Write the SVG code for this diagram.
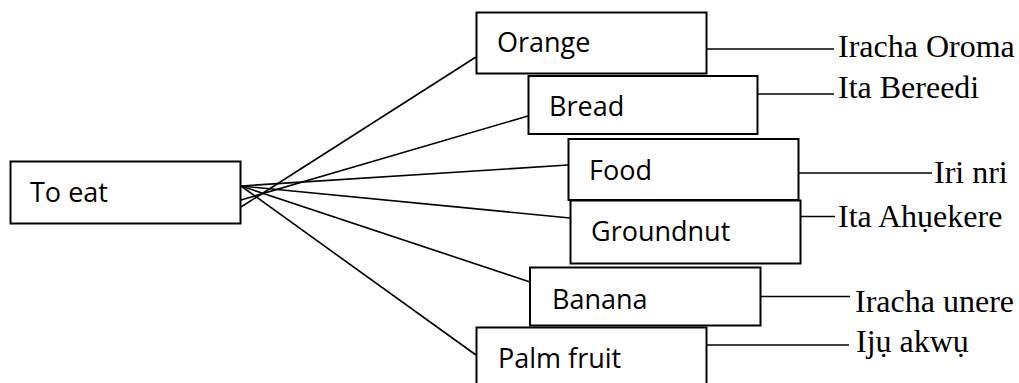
<svg xmlns="http://www.w3.org/2000/svg" width="1019" height="383" viewBox="0 0 1019 383">
<style>
.box{fill:#fff;stroke:#000;stroke-width:2}
.lbl{font-family:"Open Sans","Liberation Sans",sans-serif;font-size:27px;fill:#000}
.tr{font-family:"Liberation Serif","Times New Roman",serif;font-size:32px;fill:#000}
.ln{stroke:#000;stroke-width:1.6;fill:none}
</style>
<rect width="1019" height="383" fill="#fff"/>
<g id="connectors">
<line class="ln" x1="241" y1="207" x2="476" y2="57"/>
<line class="ln" x1="241" y1="200" x2="528" y2="116"/>
<line class="ln" x1="241" y1="186" x2="568" y2="165"/>
<line class="ln" x1="241" y1="186" x2="570" y2="218"/>
<line class="ln" x1="241" y1="186" x2="530" y2="282"/>
<line class="ln" x1="241" y1="186" x2="476" y2="355"/>
<line class="ln" x1="707" y1="49" x2="834" y2="49"/>
<line class="ln" x1="758" y1="94" x2="834" y2="94"/>
<line class="ln" x1="798" y1="173" x2="932" y2="173"/>
<line class="ln" x1="800" y1="216.5" x2="835" y2="216.5"/>
<line class="ln" x1="760" y1="296.5" x2="850" y2="296.5"/>
<line class="ln" x1="707" y1="345" x2="849" y2="345"/>
</g>
<g id="to-eat">
<rect class="box" x="10.5" y="161.5" width="230" height="62"/>
<text class="lbl" x="30" y="202">To eat</text>
</g>
<g id="orange">
<rect class="box" x="476.5" y="12.5" width="230" height="61"/>
<text class="lbl" x="497" y="52">Orange</text>
</g>
<g id="bread">
<rect class="box" x="528.5" y="76" width="229" height="58"/>
<text class="lbl" x="549" y="116">Bread</text>
</g>
<g id="food">
<rect class="box" x="568.5" y="139" width="230" height="61"/>
<text class="lbl" x="589" y="180">Food</text>
</g>
<g id="groundnut">
<rect class="box" x="570.5" y="200.5" width="230" height="63"/>
<text class="lbl" x="591" y="241">Groundnut</text>
</g>
<g id="banana">
<rect class="box" x="530" y="267.5" width="230.5" height="58"/>
<text class="lbl" x="552" y="309">Banana</text>
</g>
<g id="palm-fruit">
<rect class="box" x="476.5" y="327.5" width="230" height="70"/>
<text class="lbl" x="498" y="368">Palm fruit</text>
</g>
<g id="translations">
<text class="tr" x="838" y="57">Iracha Oroma</text>
<text class="tr" x="838" y="98">Ita Bereedi</text>
<text class="tr" x="934" y="183">Iri nri</text>
<text class="tr" x="838" y="227">Ita Ahụekere</text>
<text class="tr" x="855" y="312">Iracha unere</text>
<text class="tr" x="856" y="352">Ijụ akwụ</text>
</g>
</svg>
